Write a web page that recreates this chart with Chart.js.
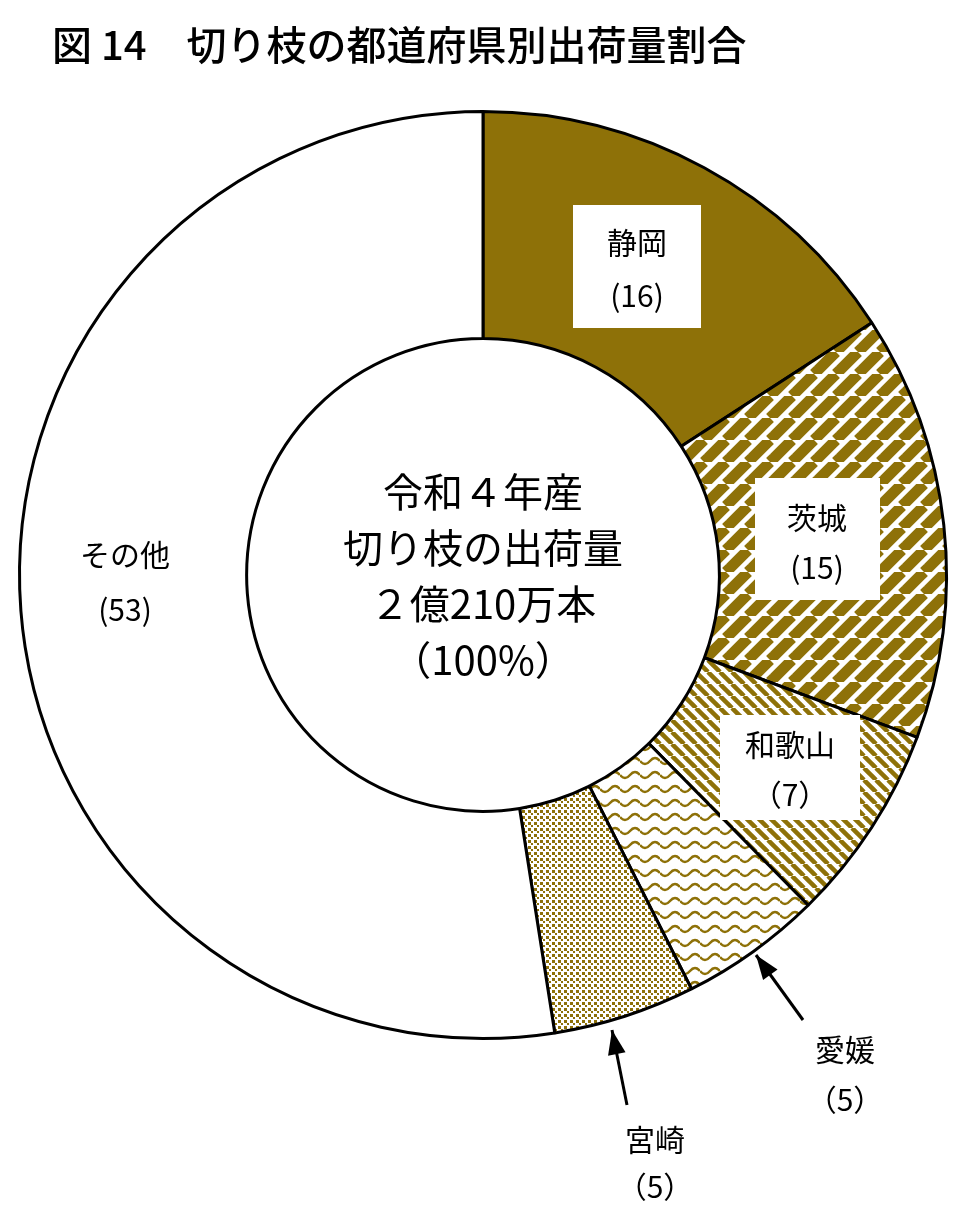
<!DOCTYPE html>
<html><head><meta charset="utf-8">
<script src="https://cdn.jsdelivr.net/npm/chart.js@4"></script>
<style>body{margin:0;background:#fff}</style></head>
<body><canvas id="c" width="960" height="1220"></canvas>
<script>
const prefs = ['静岡', '茨城', '和歌山', '愛媛', '宮崎', 'その他'];
const shares = [16, 15, 7, 5, 5, 53];
const centerLines = ['令和４年産', '切り枝の出荷量', '２億210万本', '（100%）'];
const GOLD = '#8e7108';
const FONT = '"Noto Sans CJK JP", sans-serif';

function pat(w, h, draw) {
  const c = document.createElement('canvas');
  c.width = w; c.height = h;
  const x = c.getContext('2d');
  x.fillStyle = '#fff'; x.fillRect(0, 0, w, h);
  x.fillStyle = GOLD; x.strokeStyle = GOLD;
  draw(x);
  return x.createPattern(c, 'repeat');
}
const ctx = document.getElementById('c').getContext('2d');
const stripeBold = pat(22, 22, x => {
  x.lineWidth = 11;
  for (let o = -22; o <= 44; o += 22) { x.beginPath(); x.moveTo(o, 22); x.lineTo(o + 22, 0); x.stroke(); }
});
const stripeFine = pat(12, 12, x => {
  x.lineWidth = 4.5;
  for (let o = -12; o <= 24; o += 12) { x.beginPath(); x.moveTo(o, 0); x.lineTo(o + 12, 12); x.stroke(); }
});
const wave = pat(20, 14, x => {
  x.lineWidth = 2.5;
  x.beginPath(); x.moveTo(0, 5); x.quadraticCurveTo(5, 11, 10, 5); x.quadraticCurveTo(15, -1, 20, 5); x.stroke();
});
const dots = pat(6, 6, x => { x.fillRect(0, 0, 3, 3); x.fillRect(3, 3, 2, 2); });
const fills = [GOLD, stripeBold, stripeFine, wave, dots, '#fff'];

const labels = {
  id: 'labels',
  afterDraw(chart) {
    const c = chart.ctx;
    c.save();
    c.fillStyle = '#000';
    c.textAlign = 'left'; c.textBaseline = 'middle';
    c.font = '500 40px ' + FONT;
    c.fillText('図 14　切り枝の都道府県別出荷量割合', 52, 45);
    c.textAlign = 'center';
    c.font = '40px ' + FONT;
    centerLines.forEach((t, i) => c.fillText(t, 483, 492 + i * 56));
    const boxes = [[573, 205, 128, 123, 0, 637, 243, 296], [755, 478, 125, 122, 1, 817, 518, 568], [720, 715, 140, 105, 2, 790, 745, 795]];
    c.font = '30px ' + FONT;
    boxes.forEach(b => {
      c.fillStyle = '#fff'; c.fillRect(b[0], b[1], b[2], b[3]);
      c.fillStyle = '#000';
      c.fillText(prefs[b[4]], b[5], b[6]);
      c.fillText(b[4] == 2 ? '（' + shares[b[4]] + '）' : '(' + shares[b[4]] + ')', b[5], b[7]);
    });
    c.fillText(prefs[5], 125, 555); c.fillText('(' + shares[5] + ')', 125, 610);
    c.fillText(prefs[3], 845, 1050); c.fillText('（' + shares[3] + '）', 845, 1100);
    c.fillText(prefs[4], 655, 1140); c.fillText('（' + shares[4] + '）', 655, 1187);
    const arrow = (x1, y1, x2, y2) => {
      c.strokeStyle = '#000'; c.lineWidth = 3;
      c.beginPath(); c.moveTo(x1, y1); c.lineTo(x2, y2); c.stroke();
      const a = Math.atan2(y2 - y1, x2 - x1);
      c.beginPath(); c.moveTo(x2, y2);
      c.lineTo(x2 - 26 * Math.cos(a - 0.35), y2 - 26 * Math.sin(a - 0.35));
      c.lineTo(x2 - 26 * Math.cos(a + 0.35), y2 - 26 * Math.sin(a + 0.35));
      c.closePath(); c.fillStyle = '#000'; c.fill();
    };
    arrow(803, 1020, 756, 955);
    arrow(627, 1105, 612, 1030);
    c.restore();
  }
};

new Chart(ctx, {
  type: 'doughnut',
  data: { labels: prefs, datasets: [{ data: shares, backgroundColor: fills, borderColor: '#000', borderWidth: 3 }] },
  options: {
    responsive: false, animation: false, cutout: '51%',
    layout: { padding: { left: 18, right: 12, top: 110, bottom: 180 } },
    plugins: { legend: { display: false }, tooltip: { enabled: false } }
  },
  plugins: [labels]
});
</script></body></html>
